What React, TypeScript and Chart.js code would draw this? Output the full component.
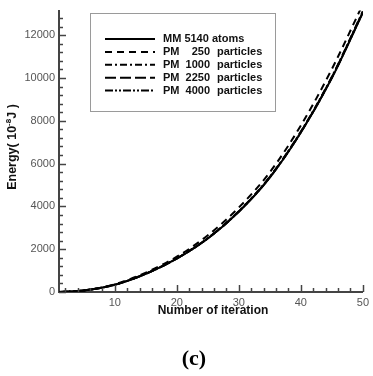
import { useEffect, useRef } from 'react';
import { Chart, registerables } from 'chart.js';

Chart.register(...registerables);

const iterations = [1, 5, 10, 15, 20, 25, 30, 35, 40, 45, 50];
const mm5140 = [0, 70, 340, 850, 1560, 2500, 3750, 5350, 7450, 10000, 13050];
const pm250 = [0, 75, 365, 905, 1650, 2650, 3950, 5600, 7780, 10420, 13450];
const pm1000 = [0, 71, 343, 858, 1575, 2520, 3780, 5390, 7500, 10060, 13120];
const pm2250 = [0, 70, 342, 855, 1570, 2512, 3768, 5375, 7480, 10035, 13095];
const pm4000 = [0, 70, 341, 852, 1565, 2506, 3760, 5362, 7465, 10018, 13070];

const seriesLabels = ['MM 5140 atoms', 'PM 250 particles', 'PM 1000 particles', 'PM 2250 particles', 'PM 4000 particles'];
const seriesValues = [mm5140, pm250, pm1000, pm2250, pm4000];
const seriesDash: number[][] = [[], [7, 5], [7, 3, 2, 3], [11, 4], [8, 2, 2, 2, 2, 2]];

const yTicks = [0, 2000, 4000, 6000, 8000, 10000, 12000];
const xTicks = [10, 20, 30, 40, 50];
const yMinorStep = 400;
const xMinorStep = 2;

const FONT = '"Liberation Sans", Arial, Helvetica, sans-serif';

const decorPlugin = {
  id: 'decor',
  afterDraw(chart: any) {
    const ctx = chart.ctx;
    const xs = chart.scales.x;
    const ys = chart.scales.y;
    const area = chart.chartArea;
    ctx.save();
    ctx.strokeStyle = '#444';
    ctx.lineWidth = 1.5;
    for (let v = 0; v <= ys.max; v += yMinorStep) {
      const y = Math.round(ys.getPixelForValue(v)) + 0.5;
      const major = v % 2000 === 0;
      ctx.beginPath();
      ctx.moveTo(area.left, y);
      ctx.lineTo(area.left + (major ? 7 : 4), y);
      ctx.stroke();
    }
    for (let v = xMinorStep; v <= xs.max; v += xMinorStep) {
      const x = Math.round(xs.getPixelForValue(v)) + 0.5;
      const major = v % 10 === 0;
      ctx.beginPath();
      ctx.moveTo(x, area.bottom);
      ctx.lineTo(x, area.bottom - (major ? 7 : 4));
      ctx.stroke();
    }

    // legend
    const bx = 90.5, by = 13.5, bw = 185, bh = 98;
    ctx.strokeStyle = '#9a9a9a';
    ctx.lineWidth = 1;
    ctx.setLineDash([]);
    ctx.strokeRect(bx, by, bw, bh);
    ctx.font = 'bold 11px ' + FONT;
    ctx.fillStyle = '#111';
    ctx.textBaseline = 'middle';
    chart.data.datasets.forEach((ds: any, i: number) => {
      const y = 39 + i * 12.9;
      ctx.strokeStyle = '#000';
      ctx.lineWidth = 2;
      ctx.setLineDash(ds.borderDash || []);
      ctx.beginPath();
      ctx.moveTo(105, y);
      ctx.lineTo(155, y);
      ctx.stroke();
      ctx.setLineDash([]);
      const parts = String(ds.label).split(' ');
      if (parts[0] === 'MM') {
        ctx.textAlign = 'left';
        ctx.fillText(ds.label, 163, y);
      } else {
        ctx.textAlign = 'left';
        ctx.fillText(parts[0], 163, y);
        ctx.textAlign = 'right';
        ctx.fillText(parts[1], 210, y);
        ctx.textAlign = 'left';
        ctx.fillText(parts.slice(2).join(' '), 217, y);
      }
    });

    // axis titles
    ctx.fillStyle = '#111';
    ctx.textAlign = 'center';
    ctx.textBaseline = 'middle';
    ctx.font = 'bold 12px ' + FONT;
    ctx.fillText('Number of iteration', 213, 311);

    ctx.translate(13, 147);
    ctx.rotate(-Math.PI / 2);
    const p1 = 'Energy( 10';
    const p2 = '-8';
    const p3 = 'J )';
    ctx.font = 'bold 12.5px ' + FONT;
    const w1 = ctx.measureText(p1).width;
    const w3 = ctx.measureText(p3).width;
    ctx.font = 'bold 8px ' + FONT;
    const w2 = ctx.measureText(p2).width;
    const total = w1 + w2 + w3;
    let cx = -total / 2;
    ctx.textAlign = 'left';
    ctx.font = 'bold 12.5px ' + FONT;
    ctx.fillText(p1, cx, 0);
    cx += w1;
    ctx.font = 'bold 8px ' + FONT;
    ctx.fillText(p2, cx, -4);
    cx += w2;
    ctx.font = 'bold 12.5px ' + FONT;
    ctx.fillText(p3, cx, 0);
    ctx.restore();
  },
};

export default function App() {
  const ref = useRef<HTMLCanvasElement | null>(null);
  useEffect(() => {
    if (!ref.current) return;
    const chart = new Chart(ref.current, {
      type: 'line',
      data: {
        datasets: seriesLabels.map((label, i) => ({
          label,
          data: iterations.map((x, j) => ({ x, y: seriesValues[i][j] })),
          borderColor: '#000',
          borderWidth: 2,
          borderDash: seriesDash[i],
          pointRadius: 0,
          fill: false,
          cubicInterpolationMode: 'monotone' as const,
        })),
      },
      options: {
        animation: false,
        responsive: false,
        devicePixelRatio: 1,
        layout: { padding: { left: 0, top: 10, right: 6, bottom: 44 } },
        plugins: { legend: { display: false }, tooltip: { enabled: false } },
        scales: {
          x: {
            type: 'linear',
            min: 1,
            max: 50,
            afterBuildTicks: (s: any) => { s.ticks = xTicks.map((v) => ({ value: v })); },
            afterFit: (s: any) => { s.height = 40; },
            grid: { display: true, drawOnChartArea: false, drawTicks: false },
            border: { display: true, color: '#444', width: 2 },
            ticks: { color: '#555', font: { family: FONT, size: 11 }, padding: 4, maxRotation: 0, callback: (v: any) => String(v) },
          },
          y: {
            type: 'linear',
            min: 0,
            max: 13150,
            afterBuildTicks: (s: any) => { s.ticks = yTicks.map((v) => ({ value: v })); },
            afterFit: (s: any) => { s.width = 59; },
            grid: { display: true, drawOnChartArea: false, drawTicks: false },
            border: { display: true, color: '#444', width: 2 },
            ticks: { color: '#555', font: { family: FONT, size: 11 }, padding: 4, callback: (v: any) => String(v) },
          },
        },
      },
      plugins: [decorPlugin],
    });
    return () => chart.destroy();
  }, []);
  return (
    <div style={{ position: 'absolute', left: 0, top: 0, width: 373, height: 376, background: '#fff' }}>
      <canvas ref={ref} width={373} height={376} style={{ width: 373, height: 376, display: 'block' }} />
      <div
        style={{
          position: 'absolute',
          left: 0,
          width: 388,
          top: 343,
          textAlign: 'center',
          fontFamily: '"Liberation Serif", "Times New Roman", serif',
          fontWeight: 'bold',
          fontSize: 22,
          lineHeight: '30px',
          color: '#000',
        }}
      >
        (c)
      </div>
    </div>
  );
}
